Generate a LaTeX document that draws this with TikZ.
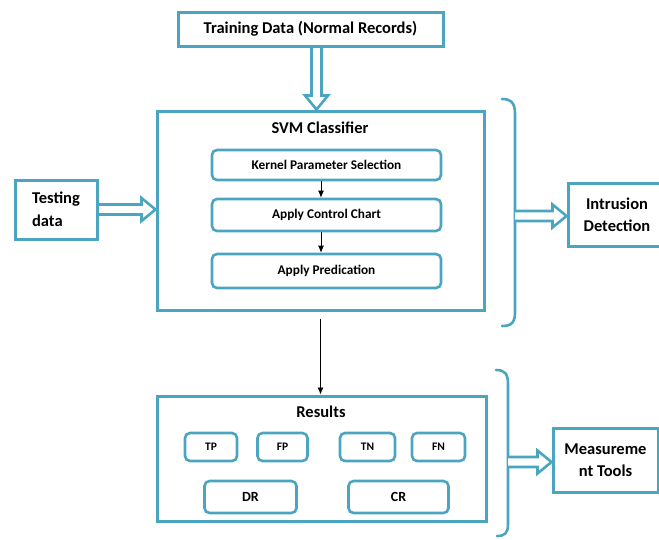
\documentclass[tikz,border=0pt]{standalone}
\usepackage{fontspec}
\setmainfont{Carlito}
\usetikzlibrary{calc,arrows.meta}
\definecolor{boxline}{RGB}{75,165,192}
\pgfdeclarelayer{bg}
\pgfsetlayers{bg,main}
\begin{document}
\begin{tikzpicture}[x=1pt,y=-1pt,
  frame/.style={draw=boxline,line width=3pt,inner sep=0pt,align=center,font=\bfseries\fontsize{16.5}{22.5}\selectfont},
  step box/.style={draw=boxline,line width=2.6pt,rounded corners=5pt,inner sep=0pt,font=\bfseries\fontsize{13.3}{15}\selectfont},
  tag box/.style={step box,minimum height=28pt,font=\bfseries\fontsize{11.5}{12}\selectfont},
  rate box/.style={step box,minimum height=32pt,minimum width=94pt,font=\bfseries\fontsize{14}{16}\selectfont},
  title/.style={font=\bfseries\fontsize{16.5}{19}\selectfont,inner sep=0pt},
  blk/.style={draw=black,line width=0.9pt,-{Latex[length=7pt,width=6pt]}},
  brace/.style={draw=boxline,line width=2.6pt,line cap=round},
  hollow/.style={draw=boxline,line width=2.6pt,fill=white,line join=miter,
    to path={
      ($(\tikztostart)!5pt!90:(\tikztotarget)$) --
      ($($(\tikztotarget)!14pt!(\tikztostart)$)!5pt!90:(\tikztotarget)$) --
      ($($(\tikztotarget)!14pt!(\tikztostart)$)!11.5pt!90:(\tikztotarget)$) --
      (\tikztotarget) --
      ($($(\tikztotarget)!14pt!(\tikztostart)$)!11.5pt!270:(\tikztotarget)$) --
      ($($(\tikztotarget)!14pt!(\tikztostart)$)!5pt!270:(\tikztotarget)$) --
      ($(\tikztostart)!5pt!270:(\tikztotarget)$)
    }},
]
\useasboundingbox (0,0) rectangle (659,539);
\clip (0,0) rectangle (659,539);

% input boxes
\node[frame,minimum width=265pt,minimum height=34pt] (train) at (310.5,29) {Training Data (Normal Records)};
\node[frame,minimum width=82pt,minimum height=59pt,align=left] (test) at (56,209.5) {Testing\\data};

% classifier block
\node[frame,minimum width=327pt,minimum height=199pt] (svm) at (320.5,210.5) {};
\node[title] (svmtitle) at (320,128) {SVM Classifier};
\node[step box,minimum width=229pt,minimum height=30pt] (kernel) at (326.5,165) {Kernel Parameter Selection};
\node[step box,minimum width=229pt,minimum height=32pt] (control) at (326.5,215) {Apply Control Chart};
\node[step box,minimum width=229pt,minimum height=34pt] (pred) at (326.5,271) {Apply Predication};

% output of the classifier
\node[frame,minimum width=98pt,minimum height=63pt] (intr) at (617,215) {Intrusion\\Detection};

% results block
\node[frame,minimum width=329pt,minimum height=125pt] (results) at (321.5,458.5) {};
\node[title] (restitle) at (321,412) {Results};
\node[tag box,minimum width=52pt] (tp) at (211,447) {TP};
\node[tag box,minimum width=50pt] (fp) at (282.5,447) {FP};
\node[tag box,minimum width=55pt] (tn) at (367.5,447) {TN};
\node[tag box,minimum width=53pt] (fn) at (438.5,447) {FN};
\node[rate box,minimum width=92pt] (dr) at (250.5,497) {DR};
\node[rate box,minimum width=100pt] (cr) at (398.5,497) {CR};

\node[frame,minimum width=105pt,minimum height=64pt] (meas) at (605.5,460) {Measureme\\nt Tools};

% braces grouping the blocks
\coordinate (br1) at (515,216);
\coordinate (br2) at (508,462);
\draw[brace] (502,99) .. controls (512,99) and (515,104) .. (515,114) -- (br1) -- (515,312) .. controls (515,322) and (512,326) .. (502,326);
\draw[brace] (496,370) .. controls (505,370) and (508,374) .. (508,384) -- (br2) -- (508,524) .. controls (508,533) and (505,536) .. (497,536);

% hollow flow arrows
\begin{pgfonlayer}{bg}
\path[hollow] ([xshift=6pt]train.south) to ([xshift=6pt]train.south |- svm.north);
\path[hollow] (test.east) to (test.east -| svm.west);
\end{pgfonlayer}
\path[hollow] (br1) to (br1 -| intr.west);
\path[hollow] (br2) to (br2 -| meas.west);

% process arrows
\draw[blk] ([xshift=-5.5pt]kernel.south) -- ([xshift=-5.5pt]control.north);
\draw[blk] ([xshift=-5.5pt]control.south) -- ([xshift=-5.5pt]pred.north);
\draw[blk,shorten <=7pt] (svm.south) -- (svm.south |- results.north);
\end{tikzpicture}
\end{document}
